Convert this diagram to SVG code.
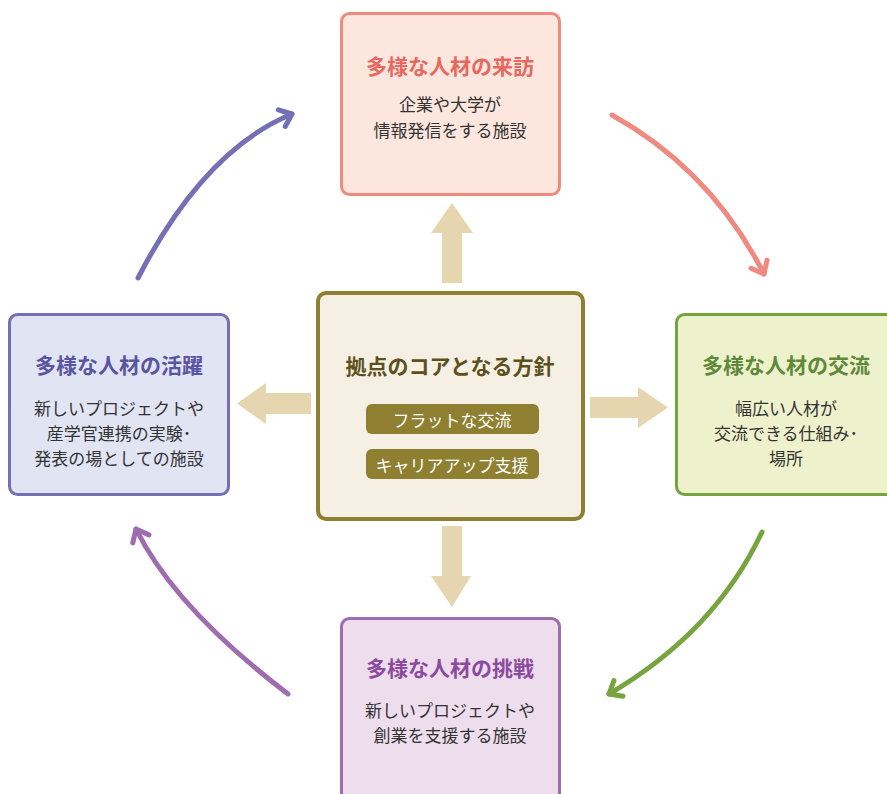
<svg xmlns="http://www.w3.org/2000/svg" width="887" height="794" viewBox="0 0 887 794">
<style>
text{font-family:"Noto Sans CJK JP","Noto Sans",sans-serif;text-anchor:middle;dominant-baseline:central}
.t{font-size:21px;font-weight:bold}
.b{font-size:17px;fill:#333}
.p{font-size:17px;fill:#FFFFFF}
.curve{fill:none;stroke-width:5;stroke-linecap:round}
.block{fill:#E6D6B0}
</style>
<defs>
<marker id="mBlue" markerUnits="userSpaceOnUse" viewBox="-14 -12 18 24" markerWidth="18" markerHeight="24" refX="0" refY="0" orient="auto"><path d="M-11,-9 L0,0 L-11,9" fill="none" stroke="#7570B6" stroke-width="5" stroke-linecap="round" stroke-linejoin="round"/></marker>
<marker id="mPink" markerUnits="userSpaceOnUse" viewBox="-14 -12 18 24" markerWidth="18" markerHeight="24" refX="0" refY="0" orient="auto"><path d="M-11,-9 L0,0 L-11,9" fill="none" stroke="#F08A80" stroke-width="5" stroke-linecap="round" stroke-linejoin="round"/></marker>
<marker id="mGreen" markerUnits="userSpaceOnUse" viewBox="-14 -12 18 24" markerWidth="18" markerHeight="24" refX="0" refY="0" orient="auto"><path d="M-11,-9 L0,0 L-11,9" fill="none" stroke="#77A43F" stroke-width="5" stroke-linecap="round" stroke-linejoin="round"/></marker>
<marker id="mPurple" markerUnits="userSpaceOnUse" viewBox="-14 -12 18 24" markerWidth="18" markerHeight="24" refX="0" refY="0" orient="auto"><path d="M-11,-9 L0,0 L-11,9" fill="none" stroke="#A06CB0" stroke-width="5" stroke-linecap="round" stroke-linejoin="round"/></marker>
</defs>
<rect width="887" height="794" fill="#FFFFFF"/>

<g id="connectors">
<path class="curve" d="M138,278 Q204,150 292,114" stroke="#7570B6" marker-end="url(#mBlue)"/>
<path class="curve" d="M612,115 Q711,170 764,274" stroke="#F08A80" marker-end="url(#mPink)"/>
<path class="curve" d="M762,532 Q715,632 609,694" stroke="#77A43F" marker-end="url(#mGreen)"/>
<path class="curve" d="M288,694 Q175,608 136,529" stroke="#A06CB0" marker-end="url(#mPurple)"/>
<polygon class="block" points="442,283 462,283 462,233 473,233 452,203 431,233 442,233"/>
<polygon class="block" points="311,393 311,414 266,414 266,424 237,403.5 266,383 266,393"/>
<polygon class="block" points="590,397 638,397 638,387 668,407.5 638,428 638,418 590,418"/>
<polygon class="block" points="442,526 462,526 462,576 471,576 452,607 431,576 442,576"/>
</g>

<g id="node-top">
<rect x="341.5" y="13.5" width="218" height="181" rx="8" fill="#FDE6DE" stroke="#F08A80" stroke-width="3"/>
<text class="t" x="450" y="65" fill="#E8685E">多様な人材の来訪</text>
<text class="b" x="450" y="103">企業や大学が</text>
<text class="b" x="450" y="129">情報発信をする施設</text>
</g>

<g id="node-left">
<rect x="9.5" y="314.5" width="219" height="180" rx="8" fill="#E1E4F3" stroke="#7570B6" stroke-width="3"/>
<text class="t" x="119" y="364" fill="#5A55A0">多様な人材の活躍</text>
<text class="b" x="119" y="407">新しいプロジェクトや</text>
<text class="b" x="119" y="432">産学官連携の実験･</text>
<text class="b" x="119" y="457">発表の場としての施設</text>
</g>

<g id="node-right">
<rect x="676.5" y="314.5" width="220" height="180" rx="8" fill="#EEF2CC" stroke="#77A43F" stroke-width="3"/>
<text class="t" x="786" y="364" fill="#5E8A3A">多様な人材の交流</text>
<text class="b" x="786" y="407">幅広い人材が</text>
<text class="b" x="786" y="432">交流できる仕組み･</text>
<text class="b" x="786" y="457">場所</text>
</g>

<g id="node-bottom">
<rect x="341.5" y="618.5" width="218" height="190" rx="8" fill="#EEDDEC" stroke="#A06CB0" stroke-width="3"/>
<text class="t" x="450" y="667" fill="#8A4A9E">多様な人材の挑戦</text>
<text class="b" x="450" y="709">新しいプロジェクトや</text>
<text class="b" x="450" y="734">創業を支援する施設</text>
</g>

<g id="node-center">
<rect x="318" y="293" width="265" height="226" rx="8" fill="#F5F0E3" stroke="#8E8030" stroke-width="4"/>
<text class="t" x="450" y="365" fill="#5C5020">拠点のコアとなる方針</text>
<rect x="366" y="404" width="173" height="30" rx="6" fill="#8E8030"/>
<text class="p" x="452" y="419">フラットな交流</text>
<rect x="366" y="449" width="173" height="30" rx="6" fill="#8E8030"/>
<text class="p" x="452" y="464">キャリアアップ支援</text>
</g>
</svg>
